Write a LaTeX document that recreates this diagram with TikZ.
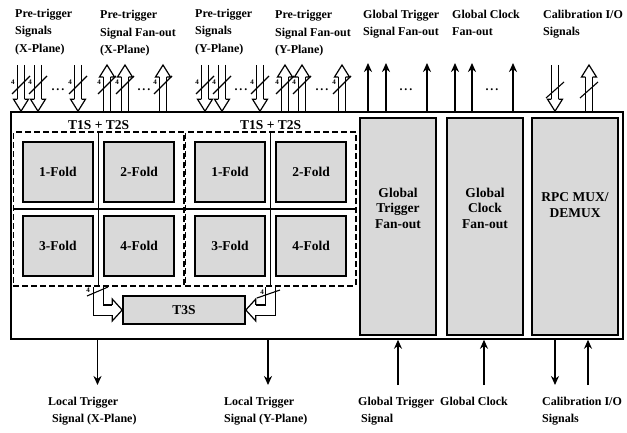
\documentclass[tikz,border=0pt]{standalone}
\usepackage{fontspec}
\setmainfont{Liberation Serif}
\usetikzlibrary{arrows.meta, positioning, calc, fit}

% open block arrow head, tip at the origin, pointing along +x
\tikzset{
  pics/hhead/.style args={#1/#2/#3}{code={
    \fill[white] (-#3,-#2) -- (0pt,0pt) -- (-#3,#2) -- cycle;
    \draw[line width=1.2pt] (-#3,-#1) -- (-#3,-#2) -- (0pt,0pt) -- (-#3,#2) -- (-#3,#1);
  }}
}

\begin{document}
\begin{tikzpicture}[x=1pt, y=1pt,
    >={Stealth[length=9pt, width=8pt]},
    node distance=12pt and 9pt,
    lbl/.style={font=\bfseries\fontsize{12}{17.5}\selectfont, align=left,
        inner sep=0pt, anchor=north west},
    fold/.style={draw, line width=2.2pt, fill=black!15, minimum width=70pt,
        minimum height=60pt, font=\bfseries\fontsize{13.5}{16}\selectfont},
    grp/.style={draw, line width=1.8pt, dash pattern=on 6pt off 3pt, inner sep=8.5pt},
    tall/.style={draw, line width=2.2pt, fill=black!15, minimum height=217pt},
    blktext/.style={font=\bfseries\fontsize{13.5}{15.5}\selectfont, align=center},
    hshaft/.style={double, double distance=6pt, line width=1.2pt},
    sig/.style={->, line width=1.6pt},
    four/.style={font=\bfseries\fontsize{7}{7}\selectfont, inner sep=0pt},
    ellip/.style={font=\bfseries\fontsize{12}{12}\selectfont, inner sep=0pt}
  ]
  \useasboundingbox (0,0) rectangle (627,432);

  % board outline
  \node[draw, line width=1.6pt, minimum width=612pt, minimum height=227pt] (main) at (317,206.5) {};

  % X-plane trigger group
  \node[fold] (a1) at (58,260) {1-Fold};
  \node[fold, right=of a1] (a2) {2-Fold};
  \node[fold, below=of a1] (a3) {3-Fold};
  \node[fold, below=of a2] (a4) {4-Fold};
  \node[grp, fit=(a1)(a4)] (g1) {};
  \draw[line width=1.6pt] (g1.north) -- (g1.south) (g1.west) -- (g1.east);
  \node[blktext, inner sep=0pt, above=2pt of g1] (g1t) {T1S + T2S};

  % Y-plane trigger group
  \node[fold] (b1) at (230,260) {1-Fold};
  \node[fold, right=of b1] (b2) {2-Fold};
  \node[fold, below=of b1] (b3) {3-Fold};
  \node[fold, below=of b2] (b4) {4-Fold};
  \node[grp, fit=(b1)(b4)] (g2) {};
  \draw[line width=1.6pt] (g2.north) -- (g2.south) (g2.west) -- (g2.east);
  \node[blktext, inner sep=0pt, above=2pt of g2] (g2t) {T1S + T2S};

  \node[draw, line width=1.6pt, fill=black!15, minimum width=122pt,
        minimum height=28pt, blktext] (t3s) at (184,122) {T3S};
  \draw[hshaft, double distance=9pt, shorten >=10pt] (g1.south) |- (t3s.west);
  \pic at (t3s.west) {hhead=5.1pt/11pt/10pt};
  \draw[hshaft, double distance=9pt, shorten >=10pt] (g2.south) |- (t3s.east);
  \pic[rotate=180] at (t3s.east) {hhead=5.1pt/11pt/10pt};
  \draw[line width=1.1pt] (87,136) -- (108,145);
  \node[four] (l4) at (88,142) {4};
  \draw[line width=1.1pt] (257,134) -- (280,142);
  \node[four] (r4) at (262,140) {4};

  % fan-out and mux blocks
  \node[tall, minimum width=76pt] (gtf) at (398,205.5) {};
  \node[blktext] (gtft) at (398,224) {Global\\Trigger\\Fan-out};
  \node[tall, minimum width=76pt] (gcf) at (485,205.5) {};
  \node[blktext] (gcft) at (485,224) {Global\\Clock\\Fan-out};
  \node[tall, minimum width=86pt] (mux) at (575,205.5) {};
  \node[blktext] (muxt) at (575,227) {RPC MUX/\\DEMUX};

  % pre-trigger inputs
  \foreach \x [count=\i] in {21,38,78,205,222,260} {
    \coordinate (pin\i) at (\x,367);
    \draw[hshaft, shorten >=12pt] (pin\i) -- (pin\i |- main.north);
    \pic[rotate=-90] at (pin\i |- main.north) {hhead=3.6pt/7.5pt/12pt};
    \draw[line width=1.1pt] (\x-9,338) -- (\x+9,356);
    \node[four] (pin\i n) at (\x-8,350) {4};
  }
  % pre-trigger fan-out
  \foreach \x [count=\i] in {107,125,163,285,302,342} {
    \coordinate (pout\i) at (\x,367);
    \draw[hshaft, shorten >=12pt] (pout\i |- main.north) -- (pout\i);
    \pic[rotate=90] at (pout\i) {hhead=3.6pt/7.5pt/12pt};
    \draw[line width=1.1pt] (\x-9,338) -- (\x+9,356);
    \node[four] (pout\i n) at (\x-8,350) {4};
  }
  % calibration i/o
  \coordinate (cin) at (555,367);
  \draw[hshaft, shorten >=12pt] (cin) -- (cin |- main.north);
  \pic[rotate=-90] at (cin |- main.north) {hhead=3.6pt/7.5pt/12pt};
  \draw[line width=1.1pt] (546,334) -- (564,350);
  \coordinate (cout) at (589,367);
  \draw[hshaft, shorten >=12pt] (cout |- main.north) -- (cout);
  \pic[rotate=90] at (cout) {hhead=3.6pt/7.5pt/12pt};
  \draw[line width=1.1pt] (580,334) -- (598,350);

  % global trigger / clock fan-out
  \foreach \x [count=\i] in {368,386,427,455,472,513} {
    \coordinate (gout\i) at (\x,369);
    \draw[sig] (gout\i |- main.north) -- (gout\i);
  }
  \foreach \x [count=\i] in {58,144,241,322,406,492}
    \node[ellip] (dot\i) at (\x,342) {.\,.\,.};

  % bottom signals
  \coordinate (ltx) at (97.5,47);
  \coordinate (lty) at (268,47);
  \coordinate (gti) at (398,47);
  \coordinate (gci) at (484,47);
  \coordinate (cbo) at (555,47);
  \coordinate (cbi) at (588,47);
  \draw[sig] (ltx |- main.south) -- (ltx);
  \draw[sig] (lty |- main.south) -- (lty);
  \draw[sig] (gti) -- (gti |- main.south);
  \draw[sig] (gci) -- (gci |- main.south);
  \draw[sig] (cbo |- main.south) -- (cbo);
  \draw[sig] (cbi) -- (cbi |- main.south);

  % labels
  \node[lbl] (ptx) at (15,423.5) {Pre-trigger\\Signals\\(X-Plane)};
  \node[lbl] (pfx) at (100,422) {Pre-trigger\\Signal Fan-out\\(X-Plane)};
  \node[lbl] (pty) at (195,423.5) {Pre-trigger\\Signals\\(Y-Plane)};
  \node[lbl] (pfy) at (275,422) {Pre-trigger\\Signal Fan-out\\(Y-Plane)};
  \node[lbl] (gtl) at (363,422.5) {Global Trigger\\Signal Fan-out};
  \node[lbl] (gcl) at (452,422.5) {Global Clock\\Fan-out};
  \node[lbl] (cal) at (543,422.5) {Calibration I/O\\Signals};
  \node[lbl] (ltxl) at (48,35.5) {Local Trigger\\\hspace*{4pt}Signal (X-Plane)};
  \node[lbl] (ltyl) at (224,35.5) {Local Trigger\\Signal (Y-Plane)};
  \node[lbl] (gtil) at (358,35.5) {Global Trigger\\\hspace*{3pt}Signal};
  \node[lbl] (gcil) at (440,35.5) {Global Clock};
  \node[lbl] (cbl) at (542,35.5) {Calibration I/O\\Signals};
\end{tikzpicture}
\end{document}
